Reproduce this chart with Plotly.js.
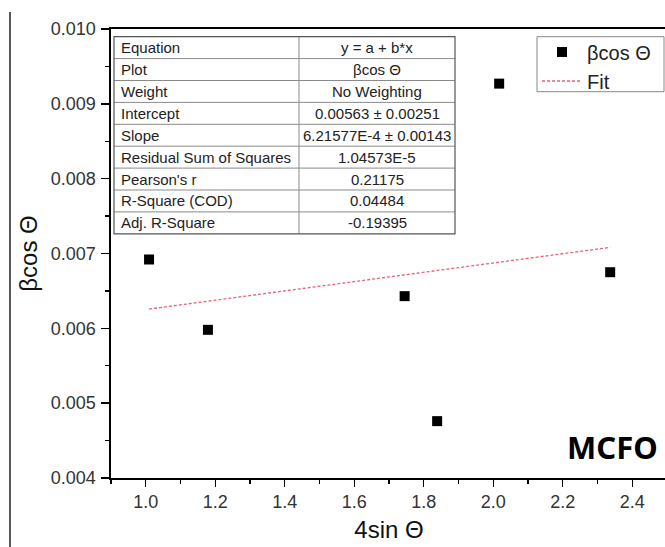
<!DOCTYPE html>
<html>
<head>
<meta charset="utf-8">
<script src="https://cdn.plot.ly/plotly-3.0.1.min.js"></script>
<style>
  html, body { margin: 0; padding: 0; background: #fff; overflow: hidden; }
  #chart { width: 668px; height: 547px; }
</style>
</head>
<body>
<div id="chart"></div>
<script>
// Measured points: 4sin(theta) vs beta*cos(theta)
const xVals = [1.0095, 1.179, 1.745, 1.8385, 2.017, 2.3365];
const yVals = [0.00692, 0.00598, 0.00643, 0.00476, 0.00927, 0.00675];

// Linear fit parameters (as reported in the stats table)
const fitIntercept = 0.00563;
const fitSlope = 6.21577e-4;

// Fit statistics table
const statLabels = ['Equation', 'Plot', 'Weight', 'Intercept', 'Slope',
  'Residual Sum of Squares', "Pearson's r", 'R-Square (COD)', 'Adj. R-Square'];
const statValues = ['y = a + b*x', 'βcos Θ', 'No Weighting', '0.00563 ± 0.00251',
  '6.21577E-4 ± 0.00143', '1.04573E-5', '0.21175', '0.04484', '-0.19395'];

const seriesName = 'βcos Θ';
const fitName = 'Fit';
const sampleLabel = 'MCFO';

// ---- geometry (pixels) ----
const W = 668, H = 547;
const M = { l: 111, r: 1, t: 29, b: 69 };
const plotW = W - M.l - M.r, plotH = H - M.t - M.b;
const px = x => (x - M.l) / plotW;          // pixel x -> paper x
const py = y => (H - M.b - y) / plotH;      // pixel y -> paper y

const FONT = 'Liberation Sans, Arial, sans-serif';

// fit line spans the data range
const xMin = Math.min(...xVals), xMax = Math.max(...xVals);
const fitX = [xMin, xMax];
const fitY = fitX.map(x => fitIntercept + fitSlope * x);

const traces = [
  {
    x: xVals, y: yVals, type: 'scatter', mode: 'markers', name: seriesName,
    marker: { symbol: 'square', size: 10, color: '#000' },
    cliponaxis: false
  },
  {
    x: fitX, y: fitY, type: 'scatter', mode: 'lines', name: fitName,
    line: { color: 'rgba(226,70,95,0.85)', width: 1.3, dash: '3px,2px' }
  }
];

// ---- stats table: lines + text ----
const tbl = { left: 114, mid: 299, right: 455, top: 36.7, rowH: 21.9 };
const nRows = statLabels.length;
const tblBottom = tbl.top + nRows * tbl.rowH;
const shapes = [];
const annotations = [];

for (let i = 1; i < nRows; i++) {
  const yy = tbl.top + i * tbl.rowH;
  shapes.push({ type: 'line', xref: 'paper', yref: 'paper',
    x0: px(tbl.left), x1: px(tbl.right), y0: py(yy), y1: py(yy),
    line: { color: '#8a8a8a', width: 1 } });
}
shapes.push({ type: 'line', xref: 'paper', yref: 'paper',
  x0: px(tbl.mid), x1: px(tbl.mid), y0: py(tbl.top), y1: py(tblBottom),
  line: { color: '#8a8a8a', width: 1 } });
shapes.push({ type: 'rect', xref: 'paper', yref: 'paper',
  x0: px(tbl.left), x1: px(tbl.right), y0: py(tbl.top), y1: py(tblBottom),
  line: { color: '#555', width: 1.2 } });

statLabels.forEach((lab, i) => {
  const yc = tbl.top + (i + 0.5) * tbl.rowH;
  annotations.push({ xref: 'paper', yref: 'paper', x: px(tbl.left + 5), y: py(yc),
    xanchor: 'left', yanchor: 'middle', showarrow: false, text: lab,
    font: { family: FONT, size: 15, color: '#222' } });
  annotations.push({ xref: 'paper', yref: 'paper', x: px((tbl.mid + tbl.right) / 2), y: py(yc),
    xanchor: 'center', yanchor: 'middle', showarrow: false, text: statValues[i],
    font: { family: FONT, size: 15, color: '#222' } });
});

// legend frame
shapes.push({ type: 'rect', xref: 'paper', yref: 'paper',
  x0: px(537), x1: px(664), y0: py(36.7), y1: py(91.7),
  line: { color: '#888', width: 1 } });

// sample label
annotations.push({ xref: 'paper', yref: 'paper', x: px(612), y: py(447),
  xanchor: 'center', yanchor: 'middle', showarrow: false, text: '<b>' + sampleLabel + '</b>',
  font: { family: 'Noto Sans, sans-serif', size: 31, color: '#000' } });

// frame line at far left of the figure
shapes.push({ type: 'line', xref: 'paper', yref: 'paper',
  x0: px(10), x1: px(10), y0: py(12), y1: py(H + 2),
  line: { color: '#222', width: 1.5 } });

const layout = {
  width: W, height: H,
  margin: M,
  paper_bgcolor: '#fff', plot_bgcolor: '#fff',
  showlegend: true,
  legend: {
    x: px(537), y: py(32.5), xanchor: 'left', yanchor: 'top',
    borderwidth: 0, bgcolor: 'rgba(0,0,0,0)',
    font: { family: FONT, size: 20, color: '#222' },
    tracegroupgap: 0, itemwidth: 40
  },
  xaxis: {
    range: [0.9, 2.5], dtick: 0.2, tick0: 0, tickformat: '.1f',
    showgrid: false, zeroline: false,
    showline: true, linecolor: '#000', linewidth: 1.6, mirror: true,
    ticks: 'outside', ticklen: 7, tickwidth: 1.4, tickcolor: '#000',
    minor: { dtick: 0.1, ticks: 'outside', ticklen: 4, tickwidth: 1.2, tickcolor: '#000' },
    tickfont: { family: FONT, size: 18, color: '#333' },
    title: { text: '4sin Θ', font: { family: FONT, size: 24, color: '#111' }, standoff: 10 }
  },
  yaxis: {
    range: [0.004, 0.010], dtick: 0.001, tick0: 0, tickformat: '.3f',
    showgrid: false, zeroline: false,
    showline: true, linecolor: '#000', linewidth: 1.6,
    ticks: 'outside', ticklen: 8, tickwidth: 1.4, tickcolor: '#000',
    minor: { dtick: 0.0005, ticks: 'outside', ticklen: 4, tickwidth: 1.2, tickcolor: '#000' },
    tickfont: { family: FONT, size: 18, color: '#333' },
    ticklabelstandoff: 2,
    title: { text: 'βcos Θ', font: { family: FONT, size: 24, color: '#111' }, standoff: 6 }
  },
  shapes: shapes,
  annotations: annotations
};

Plotly.newPlot('chart', traces, layout, { displayModeBar: false, staticPlot: true });
</script>
</body>
</html>
